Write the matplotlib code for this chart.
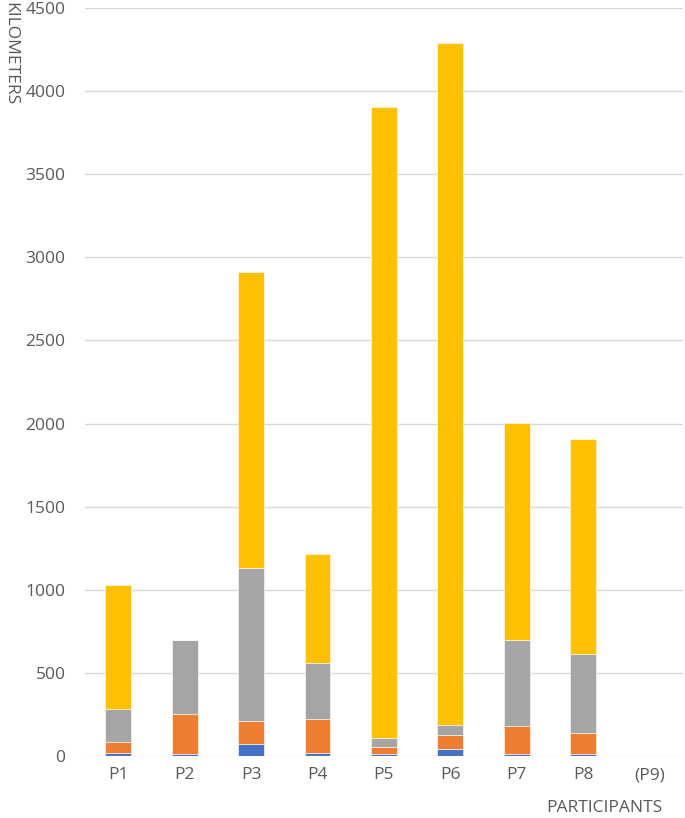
import numpy as np
import matplotlib.pyplot as plt

plt.rcParams['font.family'] = ['Open Sans', 'DejaVu Sans']

participants = ['P1', 'P2', 'P3', 'P4', 'P5', 'P6', 'P7', 'P8', '(P9)']
blue_km = [20, 14, 74, 20, 12, 42, 12, 12, 0]
orange_km = [66, 236, 136, 200, 44, 86, 170, 124, 0]
gray_km = [194, 450, 924, 340, 50, 56, 518, 476, 0]
yellow_km = [748, 0, 1780, 656, 3799, 4104, 1302, 1294, 0]

series = [blue_km, orange_km, gray_km, yellow_km]
colors = ['#4472C4', '#ED7D31', '#A5A5A5', '#FFC000']

fig = plt.figure(figsize=(6.85, 8.18), dpi=100)
ax = fig.add_axes([0.124, 0.0758, 0.873, 0.9143])

x = np.arange(len(participants))
bottom = np.zeros(len(participants))
for vals, c in zip(series, colors):
    ax.bar(x, vals, width=0.39, bottom=bottom, color=c, edgecolor='white', linewidth=0.4, zorder=3)
    bottom += np.array(vals)

ax.set_ylim(0, 4500)
ax.set_xlim(-0.5, len(participants) - 0.5)
ax.set_yticks(range(0, 4501, 500))
ax.set_xticks(x)
ax.set_xticklabels(participants)
ax.grid(axis='y', color='#D9D9D9', linewidth=1, zorder=0)
for s in ax.spines.values():
    s.set_visible(False)
ax.tick_params(axis='both', length=0, labelsize=12.5, labelcolor='#595959')
ax.tick_params(axis='y', pad=14)
ax.tick_params(axis='x', pad=8)

fig.text(0.003, 0.997, 'KILOMETERS', rotation=-90, ha='left', va='top', fontsize=12.5, color='#595959')
fig.text(0.883, 0.002, 'PARTICIPANTS', ha='center', va='bottom', fontsize=12.5, color='#595959')

fig.savefig('out.png', dpi=100)
